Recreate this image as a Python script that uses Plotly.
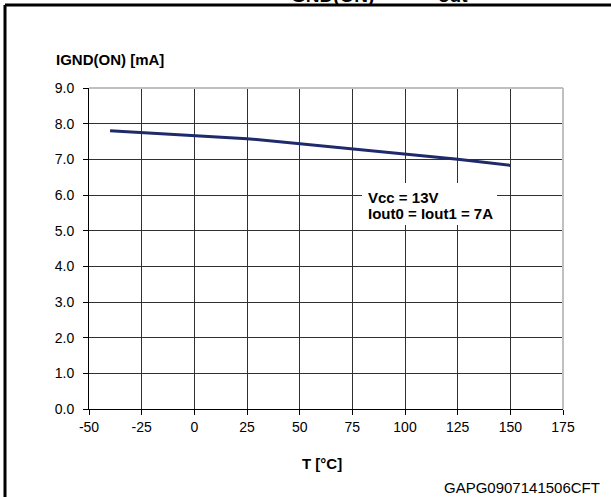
import plotly.graph_objects as go

# IGND(ON) vs temperature
temp_c = [-40, 25, 125, 150]
ignd_ma = [7.80, 7.58, 7.00, 6.83]

x_ticks = [-50, -25, 0, 25, 50, 75, 100, 125, 150, 175]
y_ticks = [0, 1, 2, 3, 4, 5, 6, 7, 8, 9]

FONT = "Liberation Sans, Arial, sans-serif"

fig = go.Figure()

fig.add_trace(go.Scatter(
    x=temp_c,
    y=ignd_ma,
    mode="lines",
    line=dict(color="#1f2a6b", width=3),
    showlegend=False,
))

# plot area is 89..563 px wide, 88..409 px tall
L, R, T, B = 89, 48, 88, 88
W, H = 611, 497
pw, ph = W - L - R, H - T - B


def px(x):
    return (x - L) / pw


def py(y):
    return (H - B - y) / ph


axis_common = dict(
    showgrid=True,
    gridcolor="#303030",
    gridwidth=1,
    showline=True,
    linecolor="black",
    linewidth=1,
    ticks="outside",
    tickcolor="black",
    zeroline=False,
    tickfont=dict(family=FONT, size=14, color="black"),
)

fig.update_layout(
    width=W,
    height=H,
    margin=dict(l=L, r=R, t=T, b=B),
    paper_bgcolor="white",
    plot_bgcolor="white",
    xaxis=dict(range=[-50, 175], tickvals=x_ticks, ticktext=[str(v) for v in x_ticks],
               ticklen=5, **axis_common),
    yaxis=dict(range=[0, 9], tickvals=y_ticks, ticktext=[f"{v:.1f}" for v in y_ticks],
               ticklen=5, ticklabelstandoff=6, **axis_common),
    shapes=[
        # light grey top and right edges of plot area
        dict(type="line", xref="paper", yref="paper", x0=0, x1=1, y0=1, y1=1,
             line=dict(color="#c0c0c0", width=2)),
        dict(type="line", xref="paper", yref="paper", x0=1, x1=1, y0=0, y1=1,
             line=dict(color="#c0c0c0", width=2)),
        # white box behind the conditions note
        dict(type="rect", xref="paper", yref="paper", x0=px(362), x1=px(497),
             y0=py(225), y1=py(183), fillcolor="white", line=dict(width=0)),
        # outer frame (left and top)
        dict(type="line", xref="paper", yref="paper", x0=px(5), x1=px(5), y0=py(5), y1=py(510),
             line=dict(color="black", width=3)),
        dict(type="line", xref="paper", yref="paper", x0=px(5), x1=px(620), y0=py(5), y1=py(5),
             line=dict(color="black", width=3)),
    ],
    annotations=[
        # clipped figure title at the very top
        dict(text="<b>GND(ON)</b>", xref="paper", yref="paper",
             x=px(332), y=py(-5), xanchor="center", yanchor="middle", showarrow=False,
             font=dict(family=FONT, size=19, color="black")),
        dict(text="<b>out</b>", xref="paper", yref="paper",
             x=px(453), y=py(-5), xanchor="center", yanchor="middle", showarrow=False,
             font=dict(family=FONT, size=19, color="black")),
        dict(text="<b>Vcc = 13V</b>", xref="paper", yref="paper",
             x=px(366), y=py(197), xanchor="left", yanchor="middle", showarrow=False,
             font=dict(family=FONT, size=15, color="black")),
        dict(text="<b>Iout0 = Iout1 = 7A</b>", xref="paper", yref="paper",
             x=px(366), y=py(213), xanchor="left", yanchor="middle", showarrow=False,
             font=dict(family=FONT, size=15, color="black")),
        dict(text="<b>IGND(ON) [mA]</b>", xref="paper", yref="paper",
             x=px(54), y=py(59), xanchor="left", yanchor="middle", showarrow=False,
             font=dict(family=FONT, size=15, color="black")),
        dict(text="<b>T [°C]</b>", xref="paper", yref="paper",
             x=px(322), y=py(464), xanchor="center", yanchor="middle", showarrow=False,
             font=dict(family=FONT, size=15, color="black")),
        dict(text="GAPG0907141506CFT", xref="paper", yref="paper",
             x=px(602), y=py(487), xanchor="right", yanchor="middle", showarrow=False,
             font=dict(family=FONT, size=15, color="black")),
    ],
)

fig.write_html("out.html", config={"displayModeBar": False},
               post_script="document.body.style.margin = '0';")
